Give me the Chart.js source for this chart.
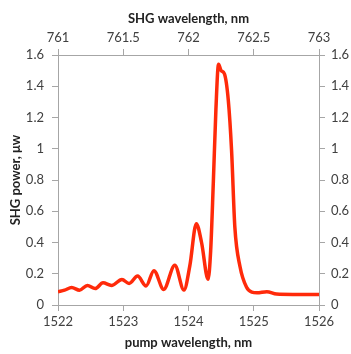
<!DOCTYPE html>
<html>
<head>
<meta charset="utf-8">
<script src="https://cdn.jsdelivr.net/npm/chart.js@4"></script>
<style>
  html, body { margin: 0; padding: 0; background: #fff; }
  #wrap { width: 351px; height: 354px; position: relative; }
</style>
</head>
<body>
<div id="wrap"><canvas id="shgChart"></canvas></div>
<script>
// pump wavelength (nm) and SHG power
const pumpWavelength = [1522.00, 1522.10, 1522.21, 1522.33, 1522.45, 1522.57, 1522.69, 1522.82, 1522.98, 1523.09,
    1523.22, 1523.35, 1523.47, 1523.62, 1523.79, 1523.93, 1524.02, 1524.12, 1524.20, 1524.30,
    1524.34, 1524.38, 1524.42, 1524.46, 1524.50, 1524.55, 1524.61, 1524.66, 1524.71, 1524.79,
    1524.89, 1524.97, 1525.05, 1525.20, 1525.35, 1525.60, 1526.00];
const shgPower = [0.085, 0.095, 0.112, 0.095, 0.125, 0.105, 0.142, 0.125, 0.163, 0.138,
    0.185, 0.122, 0.220, 0.100, 0.254, 0.096, 0.250, 0.520, 0.400, 0.165,
    0.350, 0.780, 1.250, 1.540, 1.500, 1.480, 1.310, 0.990, 0.500, 0.245,
    0.113, 0.082, 0.078, 0.085, 0.070, 0.068, 0.068];

const pumpTicks = ['1522', '1523', '1524', '1525', '1526'];
const shgWlTicks = ['761', '761.5', '762', '762.5', '763'];
const powerTicks = ['0', '0.2', '0.4', '0.6', '0.8', '1', '1.2', '1.4', '1.6'];

const points = pumpWavelength.map((x, i) => ({ x: x, y: shgPower[i] }));

const axisGray = '#a6a6a6';
const textColor = '#404040';
const tickFont = { family: 'Lato', size: 13 };
const titleFont = { family: 'Lato', size: 13, weight: 'bold' };

const ctx = document.getElementById('shgChart').getContext('2d');

new Chart(ctx, {
    type: 'line',
    data: {
        datasets: [{
            data: points,
            xAxisID: 'x',
            yAxisID: 'y',
            borderColor: '#ff2a0a',
            borderWidth: 3.5,
            pointRadius: 0,
            fill: false,
            cubicInterpolationMode: 'monotone'
        }]
    },
    options: {
        responsive: true,
        maintainAspectRatio: false,
        animation: false,
        layout: { padding: 0 },
        plugins: {
            legend: { display: false },
            tooltip: { enabled: false }
        },
        scales: {
            x: {
                type: 'linear',
                position: 'bottom',
                min: 1522, max: 1526,
                ticks: {
                    stepSize: 1, color: textColor, font: tickFont, padding: 3,
                    callback: (v) => pumpTicks[Math.round(v - 1522)]
                },
                grid: { drawOnChartArea: false, tickLength: 6, color: axisGray },
                border: { color: axisGray },
                title: { display: true, text: 'pump wavelength, nm', color: '#222', font: titleFont, padding: { top: 4, bottom: 3 } },
                afterFit: (a) => { a.height = 49; }
            },
            x2: {
                type: 'linear',
                position: 'top',
                min: 761, max: 763,
                ticks: {
                    stepSize: 0.5, color: textColor, font: tickFont, padding: 3,
                    callback: (v) => shgWlTicks[Math.round((v - 761) * 2)]
                },
                grid: { drawOnChartArea: false, tickLength: 6, color: axisGray },
                border: { color: axisGray },
                title: { display: true, text: 'SHG wavelength, nm', color: '#222', font: titleFont, padding: { top: 11, bottom: 2 } },
                afterFit: (a) => { a.height = 55; }
            },
            y: {
                position: 'left',
                min: 0, max: 1.6,
                ticks: {
                    stepSize: 0.2, color: textColor, font: tickFont, padding: 8,
                    callback: (v) => powerTicks[Math.round(v * 5)]
                },
                grid: { drawOnChartArea: false, tickLength: 6, color: axisGray },
                border: { color: axisGray },
                title: { display: true, text: 'SHG power, μw', color: '#222', font: titleFont, padding: { top: 8, bottom: 0 } },
                afterFit: (a) => { a.width = 58; }
            },
            y2: {
                position: 'right',
                min: 0, max: 1.6,
                ticks: {
                    stepSize: 0.2, color: textColor, font: tickFont, padding: 6,
                    callback: (v) => powerTicks[Math.round(v * 5)]
                },
                grid: { drawOnChartArea: false, tickLength: 6, color: axisGray },
                border: { color: axisGray },
                afterFit: (a) => { a.width = 32; }
            }
        }
    }
});
</script>
</body>
</html>
